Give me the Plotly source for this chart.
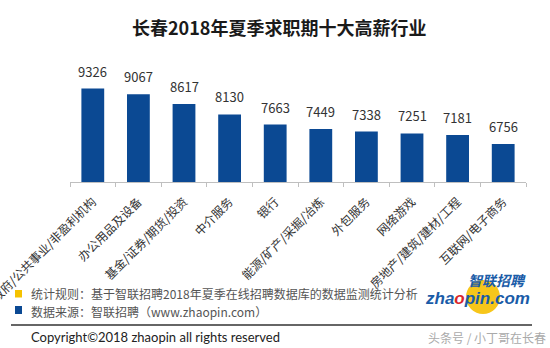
import plotly.graph_objects as go

title = "长春2018年夏季求职期十大高薪行业"
categories = ["政府/公共事业/非盈利机构", "办公用品及设备", "基金/证券/期货/投资", "中介服务", "银行",
              "能源/矿产/采掘/冶炼", "外包服务", "网络游戏", "房地产/建筑/建材/工程", "互联网/电子商务"]
salaries = [9326, 9067, 8617, 8130, 7663, 7449, 7338, 7251, 7181, 6756]
note_rule = "统计规则：基于智联招聘2018年夏季在线招聘数据库的数据监测统计分析"
note_source = "数据来源：智联招聘（www.zhaopin.com）"
copyright_text = "Copyright©2018 zhaopin all rights reserved"
watermark = "头条号 / 小丁哥在长春"

W, H = 550, 348
L, R, T, B = 70, 24, 60, 166
PW, PH = W - L - R, H - T - B

def px(x):
    return (x - L) / PW

def py(y):
    return (H - B - y) / PH

CJK = "Noto Sans CJK SC"
BLUE = "#0b4993"

fig = go.Figure()
fig.add_trace(go.Bar(x=categories, y=salaries, marker_color=BLUE, width=0.5,
                     marker_line_width=0, hoverinfo="skip"))

for c, v in zip(categories, salaries):
    fig.add_annotation(x=c, y=v, text=str(v), showarrow=False, yanchor="bottom",
                       yshift=6, font=dict(family=CJK, size=13, color="#333333"))

def text(x, y, s, size, color, anchor="left", family=CJK):
    fig.add_annotation(x=px(x), y=py(y), xref="paper", yref="paper", text=s, showarrow=False,
                       xanchor=anchor, yanchor="middle", font=dict(family=family, size=size, color=color))

text(W / 2 + 4, 27, "<b>" + title + "</b>", 18, "#1a1a1a", anchor="center")

shapes = [
    dict(type="rect", xref="paper", yref="paper", x0=px(15), x1=px(22), y0=py(290), y1=py(297.5),
         fillcolor="#f5c200", line_width=0),
    dict(type="rect", xref="paper", yref="paper", x0=px(15), x1=px(22), y0=py(306), y1=py(314),
         fillcolor=BLUE, line_width=0),
    dict(type="line", xref="paper", yref="paper", x0=px(11), x1=px(532), y0=py(325), y1=py(325),
         line=dict(color="#333333", width=1.5)),
    dict(type="circle", xref="paper", yref="paper", x0=px(466), x1=px(500), y0=py(280), y1=py(314),
         fillcolor="#f7c61a", line_width=0),
]
text(29, 293, note_rule, 12, "#555555")
text(29, 311, note_source, 12, "#555555")
text(29, 337, copyright_text, 13, "#222222", family="Lato")
text(548, 337, watermark, 12, "#aaaaaa", anchor="right")
text(528, 280, "<b><i>智联招聘</i></b>", 14, "#1a5ca8", anchor="right")
text(532, 298, "<b><i>zha<span style='color:#d9262b'>o</span>pin.com</i></b>", 17, "#1a5ca8",
     anchor="right", family="Liberation Sans")

fig.update_layout(
    width=W, height=H, margin=dict(l=L, r=R, t=T, b=B, pad=0, autoexpand=False),
    paper_bgcolor="white", plot_bgcolor="white", showlegend=False, shapes=shapes,
    bargap=0.5,
)
fig.update_xaxes(type="category", tickangle=-45, tickson="boundaries", ticks="outside", ticklen=4,
                 tickcolor="#bfbfbf", showline=True, linecolor="#bfbfbf", linewidth=1, automargin=False,
                 ticklabelstandoff=7,
                 tickfont=dict(family=CJK, size=12, color="#333333"), showgrid=False)
fig.update_yaxes(range=[5000, 10650], visible=False, showgrid=False, automargin=False)

fig.write_html("out.html")
